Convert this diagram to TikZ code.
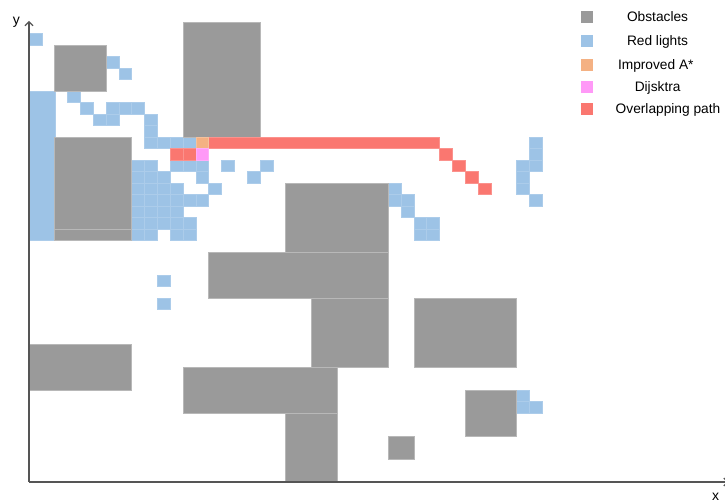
\documentclass[tikz,border=0pt]{standalone}
\usepackage{fontspec}
\setmainfont{Liberation Sans}
\usetikzlibrary{arrows.meta}
\definecolor{obstgray}{HTML}{9A9A9A}
\definecolor{lightblue}{HTML}{9DC3E6}
\definecolor{astar}{HTML}{F4B183}
\definecolor{dijk}{HTML}{FF99F7}
\definecolor{overlap}{HTML}{FA7770}
\definecolor{axisgray}{HTML}{555555}
\tikzset{
  obst/.style={fill=obstgray, draw=obstgray!70!white, line width=0.35pt},
  bluecell/.style={fill=lightblue, draw=lightblue!85!white, line width=0.2pt},
  astarcell/.style={fill=astar, draw=astar!80!white, line width=0.2pt},
  dijkcell/.style={fill=dijk, draw=dijk!80!white, line width=0.2pt},
  redcell/.style={fill=overlap, draw=overlap!80!white, line width=0.2pt},
  axisline/.style={draw=axisgray, line width=0.9pt},
  legtext/.style={font=\fontsize{10.3}{12}\selectfont, anchor=base, inner sep=0pt},
  axlabel/.style={font=\fontsize{10.5}{12}\selectfont, inner sep=0pt}
}
\begin{document}
\begin{tikzpicture}[x=9.619pt, y=8.625pt]
\useasboundingbox (-21.75pt,-15.75pt) rectangle (522pt,361.5pt);
\clip (-21.75pt,-15.75pt) rectangle (522pt,361.5pt);
\fill[white] (-21.75pt,-15.75pt) rectangle (522pt,361.5pt);
% red light cells (blue)
\draw[bluecell] (0,21) rectangle (2,34);
\foreach \c/\r in {0/38, 6/36, 7/35, 3/33, 4/32, 5/31, 6/31, 6/32, 7/32, 8/32,
  9/29, 9/30, 9/31, 10/29, 11/29, 12/29,
  8/27, 9/27, 11/27, 12/27, 13/27, 15/27, 18/27,
  8/26, 9/26, 10/26, 13/26, 17/26,
  8/25, 9/25, 10/25, 11/25, 14/25,
  8/24, 9/24, 10/24, 11/24, 12/24, 13/24,
  8/23, 9/23, 10/23, 11/23,
  8/22, 9/22, 10/22, 11/22, 12/22,
  8/21, 9/21, 11/21, 12/21,
  10/17, 10/15,
  28/24, 28/25, 29/23, 29/24, 30/21, 31/21, 30/22, 31/22,
  39/27, 39/28, 39/29, 38/25, 38/26, 38/27, 39/24,
  38/7, 38/6, 39/6}
  \draw[bluecell] (\c,\r) rectangle ++(1,1);
% obstacles
\draw[obst] (12,30) rectangle (18,40);
\draw[obst] (2,34) rectangle (6,38);
\draw[obst] (2,22) rectangle (8,30);
\draw[obst] (2,21) rectangle (8,22);
\draw[obst] (20,20) rectangle (28,26);
\draw[obst] (14,16) rectangle (28,20);
\draw[obst] (22,10) rectangle (28,16);
\draw[obst] (30,10) rectangle (38,16);
\draw[obst] (0,8) rectangle (8,12);
\draw[obst] (12,6) rectangle (24,10);
\draw[obst] (20,0) rectangle (24,6);
\draw[obst] (34,4) rectangle (38,8);
\draw[obst] (28,2) rectangle (30,4);
% paths
\draw[redcell] (14,29) rectangle (32,30);
\foreach \c/\r in {11/28, 12/28, 32/28, 33/27, 34/26, 35/25}
  \draw[redcell] (\c,\r) rectangle ++(1,1);
\draw[astarcell] (13,29) rectangle ++(1,1);
\draw[dijkcell] (13,28) rectangle ++(1,1);
% axes
\coordinate (O) at (0,0);
\coordinate (ytip) at (0,40.09);
\coordinate (xtip) at (54.55,0);
\draw[axisline, -{Straight Barb[length=3pt, width=6pt]}] (O) -- (ytip);
\draw[axisline, -{Straight Barb[length=3pt, width=6pt]}] (O) -- (xtip);
\node[axlabel] (ylab) at (-9.4pt,344.5pt) {y};
\node[axlabel] (xlab) at (514.9pt,-11.2pt) {x};
% legend
\foreach \yy/\cl/\tx/\xx [count=\i] in {349/obstgray/Obstacles/471.4, 330.9/lightblue/Red lights/471.4, 312.75/astar/Improved A*/470.1, 296.4/dijk/Dijsktra/471.5, 280.1/overlap/Overlapping path/479.25}{
  \fill[\cl] (413.8pt,\yy pt-4.5pt) rectangle (423.2pt,\yy pt+4.5pt);
  \node[legtext] (leg\i) at (\xx pt,\yy pt-3.7pt) {\tx};
}
\end{tikzpicture}
\end{document}
